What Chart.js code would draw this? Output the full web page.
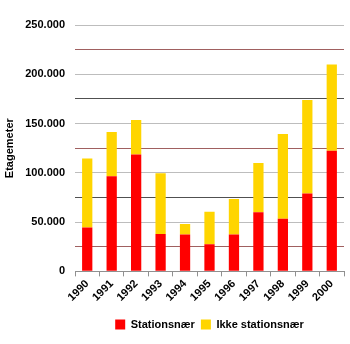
<!DOCTYPE html>
<html>
<head>
<meta charset="utf-8">
<script src="https://cdn.jsdelivr.net/npm/chart.js@4"></script>
<style>
    html, body { margin: 0; padding: 0; background: #fff; }
    #wrap { width: 350px; height: 344px; }
</style>
</head>
<body>
<div id="wrap"><canvas id="chart" width="350" height="344"></canvas></div>
<script>
const years = ['1990', '1991', '1992', '1993', '1994', '1995', '1996', '1997', '1998', '1999', '2000'];
const stationsnaer = [44500, 96500, 118500, 38000, 37500, 27500, 37500, 60000, 53500, 79000, 122500];
const ikkeStationsnaer = [70000, 45000, 35000, 61500, 10500, 33000, 36000, 50000, 86000, 95000, 87500];
const seriesNames = ['Stationsnær', 'Ikke stationsnær'];
const seriesColors = ['#ff0000', '#ffd500'];

const FONT = 'Liberation Sans, Arial, sans-serif';

function formatThousands(value) {
    return value.toString().replace(/\B(?=(\d{3})+(?!\d))/g, '.');
}

function gridColor(value) {
    if (value % 50000 === 0) return '#bdbdbd';
    if (value % 100000 === 25000) return '#a06060';
    return '#505050';
}

// centre the legend under the plot area instead of the whole canvas
const legendUnderPlot = {
    id: 'legendUnderPlot',
    afterLayout(chart) {
        const legend = chart.legend;
        if (!legend) return;
        legend.left = chart.chartArea.left;
        legend.right = chart.chartArea.right;
        legend.width = legend.right - legend.left;
    },
};

new Chart(document.getElementById('chart'), {
    type: 'bar',
    data: {
        labels: years,
        datasets: [
            { label: seriesNames[0], data: stationsnaer, backgroundColor: seriesColors[0] },
            { label: seriesNames[1], data: ikkeStationsnaer, backgroundColor: seriesColors[1] },
        ],
    },
    options: {
        responsive: false,
        animation: false,
        layout: { padding: { top: 25, right: 6, left: 3, bottom: 4 } },
        datasets: { bar: { categoryPercentage: 1, barPercentage: 0.42 } },
        scales: {
            x: {
                stacked: true,
                afterFit: (scale) => { scale.height += 8; },
                grid: { drawOnChartArea: false, drawTicks: true, tickLength: 5, color: '#909090', offset: true },
                border: { color: '#909090' },
                ticks: {
                    minRotation: 45, maxRotation: 45, color: '#000', padding: 1,
                    font: { family: FONT, size: 11, weight: 'bold' },
                },
            },
            y: {
                stacked: true,
                min: 0,
                max: 250000,
                afterFit: (scale) => { scale.width = 72; },
                border: { display: false },
                grid: {
                    drawTicks: false,
                    color: (ctx) => gridColor(ctx.tick.value),
                },
                ticks: {
                    stepSize: 25000,
                    padding: 10,
                    color: '#000',
                    font: { family: FONT, size: 11, weight: 'bold' },
                    callback: (value) => (value % 50000 === 0 ? formatThousands(value) : ''),
                },
                title: {
                    display: true,
                    text: 'Etagemeter',
                    color: '#000',
                    padding: { top: 0, bottom: 0 },
                    font: { family: FONT, size: 11, weight: 'bold' },
                },
            },
        },
        plugins: {
            legend: {
                position: 'bottom',
                labels: {
                    boxWidth: 10,
                    boxHeight: 10,
                    padding: 6,
                    color: '#000',
                    font: { family: FONT, size: 11, weight: 'bold' },
                },
            },
            tooltip: { enabled: false },
        },
    },
    plugins: [legendUnderPlot],
});
</script>
</body>
</html>
